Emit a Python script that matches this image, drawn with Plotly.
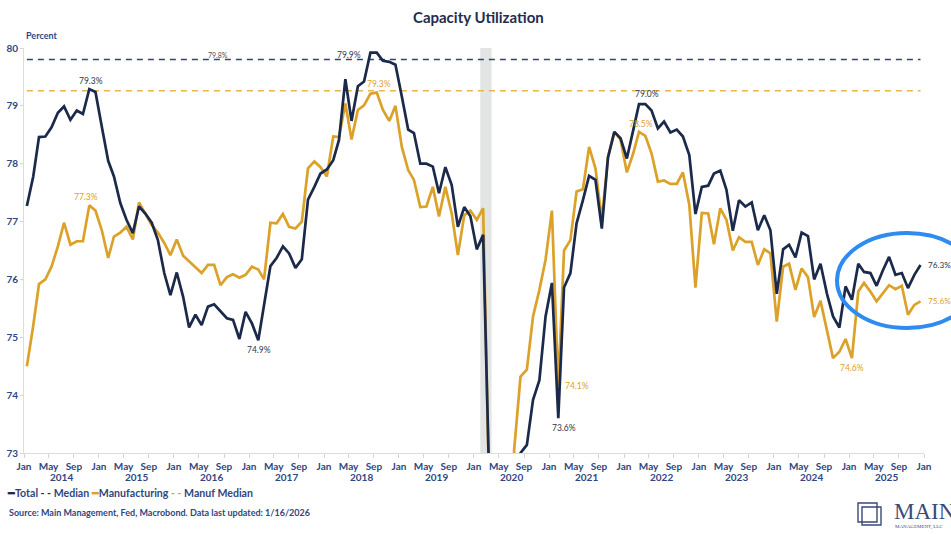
import pandas as pd
import plotly.graph_objects as go

# ---------------- data ----------------
months = pd.date_range("2014-01-01", "2025-12-01", freq="MS") + pd.Timedelta(days=14)

total = [
    77.27, 77.78, 78.46, 78.47, 78.63, 78.88, 78.99, 78.76, 78.92, 78.86, 79.29, 79.24,  # 2014
    78.64, 78.05, 77.78, 77.32, 77.03, 76.80, 77.26, 77.14, 76.98, 76.68, 76.11, 75.73,  # 2015
    76.12, 75.70, 75.17, 75.39, 75.21, 75.53, 75.57, 75.44, 75.33, 75.30, 74.97, 75.44,  # 2016
    75.24, 74.95, 75.53, 76.23, 76.37, 76.57, 76.45, 76.20, 76.35, 77.38, 77.60, 77.83,  # 2017
    77.90, 78.06, 78.41, 79.46, 78.74, 79.34, 79.42, 79.92, 79.92, 79.78, 79.76, 79.71,  # 2018
    79.16, 78.59, 78.53, 78.00, 78.00, 77.95, 77.49, 77.94, 77.63, 76.91, 77.25, 77.09,  # 2019
    76.52, 76.77, 72.60, 64.20, 65.30, 68.50, 71.40, 73.00, 73.14, 73.92, 74.26, 75.36,  # 2020
    75.94, 73.60, 75.86, 76.11, 76.97, 77.37, 77.79, 77.72, 76.88, 78.11, 78.55, 78.44,  # 2021
    78.09, 78.58, 79.03, 79.03, 78.92, 78.61, 78.73, 78.54, 78.59, 78.47, 78.15, 77.13,  # 2022
    77.60, 77.62, 77.83, 77.88, 77.55, 76.84, 77.37, 77.26, 77.33, 76.85, 77.11, 76.85,  # 2023
    75.75, 76.52, 76.60, 76.38, 76.81, 76.75, 76.00, 76.27, 75.76, 75.36, 75.17, 75.88,  # 2024
    75.65, 76.27, 76.13, 76.11, 75.89, 76.16, 76.39, 76.08, 76.11, 75.85, 76.08, 76.25,  # 2025
]

manuf = [
    74.50, 75.20, 75.92, 76.00, 76.22, 76.57, 76.98, 76.60, 76.66, 76.66, 77.28, 77.19,  # 2014
    76.85, 76.37, 76.74, 76.81, 76.91, 76.69, 77.33, 77.14, 76.94, 76.81, 76.63, 76.42,  # 2015
    76.69, 76.41, 76.32, 76.21, 76.11, 76.25, 76.25, 75.90, 76.04, 76.09, 76.03, 76.08,  # 2016
    76.22, 76.17, 76.00, 76.98, 76.97, 77.13, 76.91, 76.88, 77.00, 77.92, 78.04, 77.94,  # 2017
    77.78, 78.47, 78.46, 79.04, 78.42, 78.93, 79.01, 79.21, 79.23, 78.93, 78.74, 79.00,  # 2018
    78.29, 77.89, 77.72, 77.25, 77.26, 77.60, 77.09, 77.60, 77.14, 76.42, 77.11, 77.19,  # 2019
    77.03, 77.23, 72.40, 61.50, 63.50, 68.00, 73.05, 74.32, 74.44, 75.36, 75.82, 76.34,  # 2020
    77.19, 74.15, 76.50, 76.68, 77.52, 77.56, 78.29, 77.92, 77.03, 78.11, 78.55, 78.42,  # 2021
    77.85, 78.18, 78.55, 78.48, 78.18, 77.69, 77.71, 77.65, 77.65, 77.85, 77.29, 75.86,  # 2022
    77.15, 77.14, 76.61, 77.23, 77.03, 76.50, 76.73, 76.65, 76.65, 76.25, 76.52, 76.45,  # 2023
    75.27, 76.22, 76.27, 75.82, 76.19, 76.04, 75.35, 75.63, 75.13, 74.64, 74.75, 74.97,  # 2024
    74.64, 75.79, 75.94, 75.79, 75.62, 75.76, 75.90, 75.83, 75.89, 75.39, 75.56, 75.62,  # 2025
]

total_median = 79.8
manuf_median = 79.26

tick_dates = pd.date_range("2014-01-01", "2026-01-01", freq="4MS")
tick_labels = [d.strftime("%b") for d in tick_dates]
year_labels = [str(y) for y in range(2014, 2026)]
y_ticks = [73, 74, 75, 76, 77, 78, 79, 80]

recession = ("2020-02-01", "2020-03-27")

# ---------------- style ----------------
NAVY = "#1b2a4a"
GOLD = "#dba128"
LABEL_BLUE = "#2f4680"
FONT = "Lato"

fig = go.Figure()

fig.add_trace(go.Scatter(x=[months[0], months[-1]], y=[total_median] * 2, mode="lines",
                         line=dict(color="#33446b", width=1.6, dash="6px,5px"), name="Median"))
fig.add_trace(go.Scatter(x=[months[0], months[-1]], y=[manuf_median] * 2, mode="lines",
                         line=dict(color="#e8b44c", width=1.6, dash="6px,5px"), name="Manuf Median"))
fig.add_trace(go.Scatter(x=months, y=manuf, mode="lines",
                         line=dict(color=GOLD, width=2.7), name="Manufacturing"))
fig.add_trace(go.Scatter(x=months, y=total, mode="lines",
                         line=dict(color=NAVY, width=2.7), name="Total"))

# recession shading
fig.add_shape(type="rect", xref="x", yref="paper", x0=recession[0], x1=recession[1],
              y0=0, y1=1, fillcolor="#e3e4e4", line=dict(width=0), layer="below")

ann = []

def lab(i, series, text, color, xs=0, ys=0, xa="center", size=8.5):
    ann.append(dict(x=months[i], y=series[i], xref="x", yref="y", text=text, showarrow=False,
                    xshift=xs, yshift=ys, xanchor=xa, yanchor="middle",
                    font=dict(family=FONT, size=size, color=color)))

LBL_N = "#2e3649"
lab(10, total, "79.3%", LBL_N, xs=2, ys=8)
lab(10, manuf, "77.3%", GOLD, xs=-3, ys=8)
lab(37, total, "74.9%", LBL_N, xs=1, ys=-10)
lab(55, total, "79.9%", LBL_N, xs=-7, ys=-2, xa="right")
lab(56, manuf, "79.3%", GOLD, xs=2, ys=9)
lab(85, manuf, "74.1%", GOLD, xs=5, ys=0, xa="left")
lab(85, total, "73.6%", LBL_N, xs=6, ys=-10)
lab(98, total, "79.0%", LBL_N, xs=8, ys=10)
lab(98, manuf, "78.5%", GOLD, xs=2, ys=8)
lab(132, manuf, "74.6%", GOLD, xs=0, ys=-10)
lab(143, total, "76.3%", LBL_N, xs=5, ys=0, xa="left", size=8.2)
lab(143, manuf, "75.6%", GOLD, xs=5, ys=0, xa="left", size=8.2)

# median label
ann.append(dict(x=months[30], y=total_median, xref="x", yref="y", text="79.8%", showarrow=False,
                xshift=4, yshift=5, font=dict(family=FONT, size=7, color="#4a4f5c")))

# year labels under the month ticks
for yl in year_labels:
    ann.append(dict(x=f"{yl}-07-01", y=-0.059, xref="x", yref="paper", text=yl, showarrow=False,
                    yanchor="middle", font=dict(family=FONT, size=10, color=LABEL_BLUE, weight="bold")))

# axis title
ann.append(dict(x=0.0, y=1.032, xref="paper", yref="paper", text="Percent", showarrow=False,
                xanchor="left", yanchor="middle",
                font=dict(family=FONT, size=9, color=LABEL_BLUE, weight="bold")))

# legend (text with coloured glyphs)
legend_text = (f'<span style="color:{NAVY}">━</span>Total '
               f'<span style="color:{NAVY}">- -</span> Median '
               f'<span style="color:{GOLD}">━</span>Manufacturing '
               f'<span style="color:{GOLD}">- -</span> Manuf Median')
ann.append(dict(x=-0.021, y=-0.099, xref="paper", yref="paper", text=legend_text, showarrow=False,
                xanchor="left", yanchor="middle",
                font=dict(family=FONT, size=10.6, color=LABEL_BLUE, weight="bold")))

# source
ann.append(dict(x=-0.019, y=-0.148, xref="paper", yref="paper",
                text="Source: Main Management, Fed, Macrobond. Data last updated: 1/16/2026",
                showarrow=False, xanchor="left", yanchor="middle",
                font=dict(family=FONT, size=9, color=LABEL_BLUE, weight="bold")))

# logo text
LOGO = "#3a4a78"
ann.append(dict(x=0.964, y=-0.144, xref="paper", yref="paper", text="MAIN", showarrow=False,
                xanchor="left", yanchor="middle",
                font=dict(family="Liberation Serif", size=23, color=LOGO)))
ann.append(dict(x=0.965, y=-0.182, xref="paper", yref="paper", text="MANAGEMENT, LLC", showarrow=False,
                xanchor="left", yanchor="middle",
                font=dict(family="Liberation Serif", size=5, color=LOGO)))

fig.update_layout(annotations=ann)

# logo icon (overlapping squares)
def px2paper(x, y):
    return (x - 24) / 900, (453 - y) / 405

for (a, b, c, d) in [(858, 503, 877, 522), (862, 507, 881, 525)]:
    x0, y0 = px2paper(a, d)
    x1, y1 = px2paper(c, b)
    fig.add_shape(type="rect", xref="paper", yref="paper", x0=x0, x1=x1, y0=y0, y1=y1,
                  line=dict(color=LOGO, width=1.4), fillcolor="rgba(0,0,0,0)")

# highlight ellipse
ex0, ey0 = px2paper(837, 328)
ex1, ey1 = px2paper(977, 233)
fig.add_shape(type="circle", xref="paper", yref="paper", x0=ex0, x1=ex1, y0=ey0, y1=ey1,
              line=dict(color="#2e8bf0", width=4), layer="above")

fig.update_layout(
    width=951, height=534,
    margin=dict(l=24, r=27, t=48, b=81, autoexpand=False),
    paper_bgcolor="white", plot_bgcolor="white",
    showlegend=False,
    title=dict(text="Capacity Utilization", x=0.503, xanchor="center", y=0.966, yanchor="middle",
               font=dict(family=FONT, size=15, color="#1f2d4e", weight="bold")),
    xaxis=dict(type="date", range=["2014-01-01", "2026-01-01"], tickvals=tick_dates,
               ticktext=tick_labels, ticks="outside", ticklen=4, tickcolor="#d5d5d5",
               showline=True, linecolor="#dcdcdc", linewidth=1, showgrid=False, zeroline=False,
               automargin=False,
               tickfont=dict(family=FONT, size=10, color=LABEL_BLUE, weight="bold")),
    yaxis=dict(range=[73, 80], tickvals=y_ticks, ticks="outside", ticklen=3, tickcolor="#d5d5d5",
               showline=True, linecolor="#dcdcdc", linewidth=1, showgrid=False, zeroline=False,
               automargin=False,
               tickfont=dict(family=FONT, size=10, color=LABEL_BLUE, weight="bold")),
)

fig.write_html("out.html", config={"displayModeBar": False},
               post_script="document.body.style.margin='0';document.body.style.overflow='hidden';")
